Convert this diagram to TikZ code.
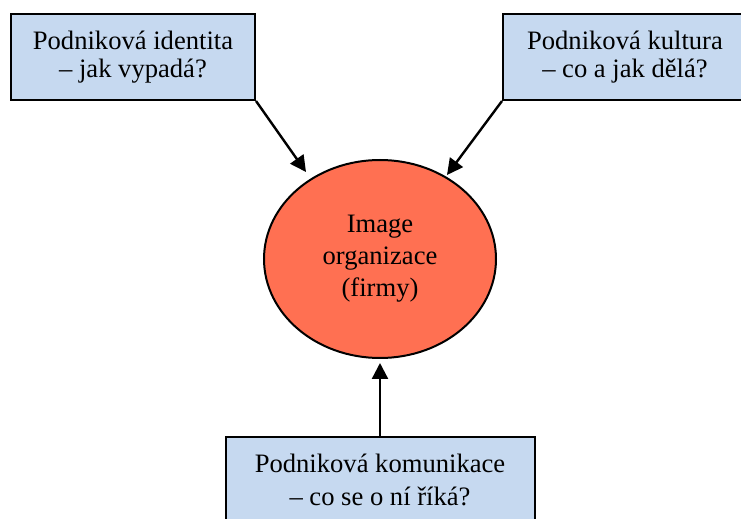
\documentclass[tikz,border=0pt]{standalone}
\usepackage{fontspec}
\setmainfont{Liberation Serif}
\usetikzlibrary{arrows.meta, shapes.geometric}
\definecolor{boxblue}{RGB}{198,217,240}
\definecolor{imgred}{RGB}{255,112,82}
\begin{document}
\begin{tikzpicture}[x=0.5pt, y=-0.5pt,
	box/.style={draw, line width=1pt, fill=boxblue, minimum height=43pt, inner sep=0pt, align=center, font=\fontsize{13.3}{14}\selectfont},
	imgnode/.style={draw, line width=1pt, fill=imgred, ellipse, minimum width=116pt, minimum height=99pt, inner sep=0pt, align=center, font=\fontsize{13.3}{16}\selectfont},
	arr/.style={line width=1.2pt, -{Triangle[length=8pt, width=8pt]}}]
	\clip (0,0) rectangle (741,519);
	\node [box, minimum width=122pt] (ident) at (133,57) {Podniková identita\\– jak vypadá?};
	\node [box, minimum width=122pt] (kult) at (625,57) {Podniková kultura\\– co a jak dělá?};
	\node [box, minimum width=154.5pt, font=\fontsize{13.3}{16.5}\selectfont] (komu) at (380,480) {Podniková komunikace\\– co se o ní říká?};
	\node [imgnode] (img) at (380,259) {Image\\organizace\\(firmy)};
	\coordinate (tip1) at (306,172);
	\coordinate (tip2) at (447,175);
	\draw [arr] (ident.south east) -- (tip1);
	\draw [arr] (kult.south west) -- (tip2);
	\draw [arr, shorten >=2pt] (komu.north) -- (img.south);
\end{tikzpicture}
\end{document}
